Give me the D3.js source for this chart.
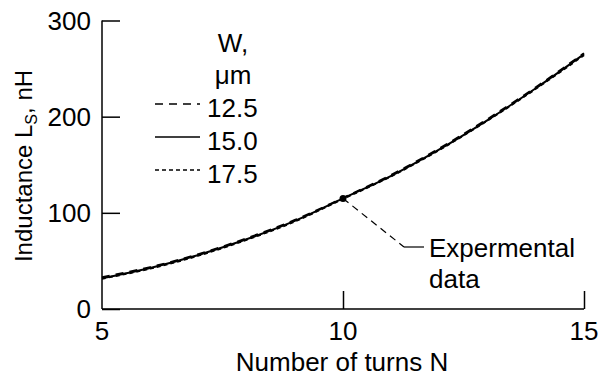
<!DOCTYPE html>
<html lang="en">
<head>
    <meta charset="UTF-8">
    <title>Inductance vs number of turns</title>
    <script src="https://d3js.org/d3.v7.min.js"></script>
    <style>
        body { margin: 0; background: #fff; }
        text { font-family: "Liberation Sans", Arial, sans-serif; fill: #000; font-size: 26px; }
    </style>
</head>
<body>
<div id="chart"></div>
<script>

    // number of turns N
    var turns = [5, 6, 7, 8, 9, 10, 11, 12, 13, 14, 15];
    // inductance Ls (nH) for each strip width W
    var ls125 = [33, 43.5, 57, 73.5, 92.5, 115.5, 139.5, 167, 197.5, 230.5, 266];
    var ls150 = [32, 42.7, 56.2, 72.5, 91.6, 115, 138.5, 166, 196.5, 229.5, 265];
    var ls175 = [31.5, 42, 55.5, 72, 91, 114.5, 138, 165.5, 196, 229, 264];
    var widths = ["12.5", "15.0", "17.5"];
    var dashes = ["8,6", null, "4,3"];

    var yTicks = [0, 100, 200, 300];
    var xTicks = [5, 10, 15];

    // experimental point
    var expN = 10, expLs = 115;

    var W = 600, H = 377;
    var svg = d3.select("#chart").append("svg")
        .attr("width", W)
        .attr("height", H);

    var x = d3.scaleLinear().domain([5, 15]).range([102, 584]);
    var y = d3.scaleLinear().domain([0, 300]).range([309, 20.5]);

    // axes: ticks pointing into the plot
    var yAxis = svg.append("g")
        .attr("transform", "translate(" + x(5) + ",0)")
        .call(d3.axisRight(y).tickValues(yTicks).tickSize(18).tickFormat(""));
    yAxis.select(".domain").attr("d", "M0," + y(300) + "V" + y(0));

    var xAxis = svg.append("g")
        .attr("transform", "translate(0," + y(0) + ")")
        .call(d3.axisTop(x).tickValues(xTicks.slice(1)).tickSize(18).tickFormat(""));
    xAxis.select(".domain").attr("d", "M" + x(5) + ",0H" + x(15));

    svg.selectAll(".domain, .tick line")
        .attr("stroke", "#000")
        .attr("stroke-width", 1.5);

    // tick labels
    svg.selectAll(".ylab").data(yTicks).enter().append("text")
        .attr("x", x(5) - 11)
        .attr("y", function (d) { return y(d) + 9; })
        .attr("text-anchor", "end")
        .text(function (d) { return d; });

    svg.selectAll(".xlab").data(xTicks).enter().append("text")
        .attr("x", function (d) { return x(d); })
        .attr("y", 340)
        .attr("text-anchor", "middle")
        .text(function (d) { return d; });

    // axis titles
    svg.append("text")
        .attr("x", 342)
        .attr("y", 371)
        .attr("text-anchor", "middle")
        .text("Number of turns N");

    var yt = svg.append("text")
        .attr("transform", "translate(32,166) rotate(-90)")
        .attr("text-anchor", "middle")
        .style("font-size", "24px");
    yt.append("tspan").text("Inductance L");
    yt.append("tspan").attr("dy", 5).style("font-size", "16px").text("S");
    yt.append("tspan").attr("dy", -5).text(", nH");

    // curves
    var line = d3.line()
        .x(function (d, i) { return x(turns[i]); })
        .y(function (d) { return y(d); })
        .curve(d3.curveCatmullRom);

    [ls125, ls150, ls175].forEach(function (s, i) {
        svg.append("path")
            .datum(s)
            .attr("fill", "none")
            .attr("stroke", "#000")
            .attr("stroke-width", 2)
            .attr("stroke-dasharray", dashes[i])
            .attr("d", line);
    });

    // experimental data marker and leader
    svg.append("circle")
        .attr("cx", x(expN))
        .attr("cy", y(expLs))
        .attr("r", 3.5)
        .attr("fill", "#000");

    svg.append("path")
        .attr("d", "M" + x(expN) + "," + y(expLs) + "L404,247")
        .attr("stroke", "#000")
        .attr("stroke-width", 1.2)
        .attr("stroke-dasharray", "7,5")
        .attr("fill", "none");
    svg.append("path")
        .attr("d", "M404,247H424")
        .attr("stroke", "#000")
        .attr("stroke-width", 1.2);

    svg.append("text").attr("x", 429).attr("y", 257).text("Expermental");
    svg.append("text").attr("x", 429).attr("y", 288).text("data");

    // legend
    svg.append("text").attr("x", 233).attr("y", 52)
        .attr("text-anchor", "middle").text("W,");
    svg.append("text").attr("x", 233).attr("y", 84)
        .attr("text-anchor", "middle").text("\u03bcm");

    widths.forEach(function (w, i) {
        var ly = 104 + i * 33;
        svg.append("line")
            .attr("x1", 155).attr("x2", 200)
            .attr("y1", ly).attr("y2", ly)
            .attr("stroke", "#000")
            .attr("stroke-width", 1.5)
            .attr("stroke-dasharray", dashes[i]);
        svg.append("text")
            .attr("x", 207)
            .attr("y", ly + 13)
            .text(w);
    });

</script>
</body>
</html>
